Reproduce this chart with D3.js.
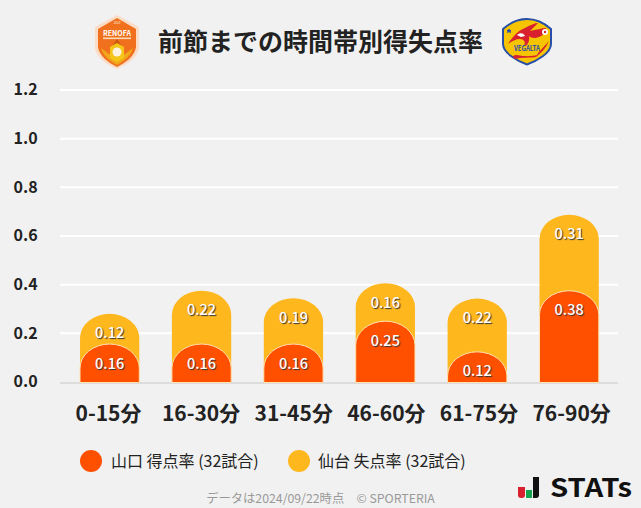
<!DOCTYPE html>
<html><head><meta charset="utf-8">
<script src="https://cdn.jsdelivr.net/npm/d3@7/dist/d3.min.js"></script>
<style>html,body{margin:0;padding:0;background:#f1f1f1;overflow:hidden}svg{display:block}text{font-family:"Noto Sans CJK JP","Noto Sans",sans-serif}</style>
</head><body><svg id="c" width="641" height="508"></svg>
<script>
const categories=["0-15分","16-30分","31-45分","46-60分","61-75分","76-90分"];
const scored=[0.156,0.156,0.156,0.25,0.124,0.375];
const conceded=[0.124,0.219,0.188,0.156,0.219,0.312];
const yTicks=[0,0.2,0.4,0.6,0.8,1.0,1.2];
const title="前節までの時間帯別得失点率";
const legendLabels=["山口 得点率 (32試合)","仙台 失点率 (32試合)"];
const colors=["#ff5000","#ffb71e"];
const svg=d3.select("#c");
const x=d3.scaleBand().domain(categories).range([60.4,618.4]).paddingInner(0.355).paddingOuter(0.2135);
const xLabel=x.copy().range([58.8,621.3]);
const y=d3.scaleLinear().domain([0,1.2]).range([382,90]);
svg.append("g").selectAll("line").data(yTicks.slice(1)).join("line")
 .attr("x1",60).attr("x2",618).attr("y1",d=>y(d)).attr("y2",d=>y(d)).attr("stroke","#fff").attr("stroke-width",2);
svg.append("line").attr("x1",60).attr("x2",618).attr("y1",383).attr("y2",383).attr("stroke","#dcdcdc").attr("stroke-width",2);
const yAxis=svg.append("g").attr("transform","translate(37.7,-1)").call(d3.axisLeft(y).tickValues(yTicks).tickFormat(d3.format(".1f")).tickSize(0).tickPadding(0));
yAxis.select(".domain").remove();
yAxis.selectAll("text").attr("font-size",16).attr("font-weight",700).attr("fill","#222").attr("dy","0.36em");
const xAxis=svg.append("g").attr("transform","translate(0,407)").call(d3.axisBottom(xLabel).tickSize(0).tickPadding(0));
xAxis.select(".domain").remove();
xAxis.selectAll("text").attr("font-size",21).attr("font-weight",700).attr("fill","#222").attr("dy","0.68em");
function capPath(cx,w,top,bottom,ry){
  const l=cx-w/2,r=cx+w/2,h=Math.min(ry,bottom-top);
  return `M${l},${bottom}V${top+h}A${w/2},${h} 0 0 1 ${r},${top+h}V${bottom}Z`;
}
const RY=24;
const rows=categories.map((c,i)=>({c,a:scored[i],b:conceded[i]}));
const g=svg.append("g");
g.selectAll("path.b").data(rows).join("path").attr("class","b")
 .attr("d",d=>capPath(x(d.c)+x.bandwidth()/2,x.bandwidth(),y(d.a+d.b),y(0)+0.5,RY)).attr("fill",colors[1]);
g.selectAll("path.a").data(rows).join("path").attr("class","a")
 .attr("d",d=>capPath(x(d.c)+x.bandwidth()/2,x.bandwidth(),y(d.a),y(0)+0.5,RY)).attr("fill",colors[0]).attr("stroke","#ffe3b0").attr("stroke-width",1);
function lab(cls,val,yPos){
  g.selectAll("text."+cls).data(rows).join("text").attr("class",cls)
   .attr("x",d=>x(d.c)+x.bandwidth()/2).attr("y",yPos).attr("text-anchor","middle").attr("font-size",14.5).attr("font-weight",500)
   .attr("fill","#fff").attr("style","text-shadow:1px 1px 1px #333").text(d=>val(d).toFixed(2));
}
lab("la",d=>d.a,d=>y(d.a)+24.5);
lab("lb",d=>d.b,d=>y(d.a+d.b)+24.5);
svg.append("text").attr("x",320.5).attr("y",51).attr("text-anchor","middle").attr("font-size",25).attr("font-weight",700).attr("fill","#222").text(title);
const lg=svg.append("g");
[[91,111],[299,318]].forEach((p,i)=>{
  lg.append("circle").attr("cx",p[0]).attr("cy",461).attr("r",11).attr("fill",colors[i]);
  lg.append("text").attr("x",p[1]).attr("y",467).attr("font-size",16).attr("fill","#222").text(legendLabels[i]);
});
svg.append("text").attr("x",320.5).attr("y",502.5).attr("text-anchor","middle").attr("font-size",12.3).attr("fill","#999").text("データは2024/09/22時点　© SPORTERIA");
// Renofa badge
const r=svg.append("g").attr("transform","translate(117,42)");
r.append("path").attr("d","M0,-27L22,-15V6C21,16 9,23 0,27C-9,23 -21,16 -22,6V-15Z").attr("fill","#fbdcc6");
r.append("path").attr("d","M0,-24L19,-13V5C18,14 8,21 0,25C-8,21 -18,14 -19,5V-13Z").attr("fill","#f0701d");
r.append("text").attr("y",-6).attr("text-anchor","middle").attr("font-size",7).attr("font-weight",700).attr("fill","#fff").text("RENOFA");
r.append("text").attr("y",-18).attr("text-anchor","middle").attr("font-size",3).attr("fill","#ffe7d2").text("2020");
r.append("rect").attr("x",-14).attr("y",-4.5).attr("width",28).attr("height",1.6).attr("fill","#ffd9b8");
r.append("path").attr("d","M-4,3L0,-3L4,3Z").attr("fill","#c9560f");
r.append("path").attr("d","M-16,6C-14,14 -7,19 0,23C7,19 14,14 16,6L8,12H-8Z").attr("fill","#f2a71b");
r.append("path").attr("d","M-7,16V5L0,1L7,5V16L0,20Z").attr("fill","#f5c518");
r.append("circle").attr("cy",10).attr("r",4.5).attr("fill","#fff3e0");
// Vegalta badge
const v=svg.append("g").attr("transform","translate(527,42)");
v.append("path").attr("d","M-25,-14C-15,-22 -8,-24 0,-24C8,-24 15,-22 25,-14V2C25,12 10,20 0,24C-10,20 -25,12 -25,2Z").attr("fill","#fff");
v.append("path").attr("d","M-24,-13C-15,-21 -8,-23 0,-23C8,-23 15,-21 24,-13V2C24,11 10,19 0,22.5C-10,19 -24,11 -24,2Z").attr("fill","#f6c400").attr("stroke","#2a4fa8").attr("stroke-width",2);
v.append("path").attr("d","M-19,2C-14,-6 -8,-12 -2,-14C3,-17 8,-19 11,-19C7,-15 5,-13 3,-11C9,-12 15,-14 19,-14C19,-9 15,-5 8,-4C5,-4 3,-5 2,-6C3,0 0,4 -3,4C-1,0 -3,-3 -7,-3C-11,-3 -15,-1 -19,2Z").attr("fill","#d8202e");
v.append("path").attr("d","M-10,-7C-7,-10 -3,-9 -2,-6L-6,-5Z").attr("fill","#fff");
v.append("path").attr("d","M-18,-13L-16.5,-9.5L-20,-11.5H-16L-19.5,-9.5Z").attr("fill","#2a4fa8").attr("stroke","#2a4fa8");
v.append("circle").attr("cx",18).attr("cy",-10).attr("r",3).attr("fill","#fff");
v.append("circle").attr("cx",18).attr("cy",-10).attr("r",1.2).attr("fill","#d8202e");
v.append("text").attr("y",9).attr("text-anchor","middle").attr("font-size",7).attr("font-weight",700).attr("font-family","Liberation Serif").attr("fill","#2a4fa8").attr("textLength",26).attr("lengthAdjust","spacingAndGlyphs").text("VEGALTA");
v.append("path").attr("d","M22,-1C16,6 12,9 10,13C6,14 -1,15 -10,13C-13,13 -16,14 -12,17C-6,15 4,16 9,15C14,11 19,6 22,-1Z").attr("fill","#d8202e");
// STATs logo
const s=svg.append("g");
s.append("path").attr("d","M518,487H525V495Q525,498 522,498H521Q518,498 518,495Z").attr("fill","#d8202e");
s.append("rect").attr("x",526).attr("y",490).attr("width",6).attr("height",8).attr("fill","#14a44d");
s.append("path").attr("d","M533,477H539V495Q539,498 536,498H533Z").attr("fill","#111");
s.append("text").attr("x",550).attr("y",497).attr("font-size",26).attr("font-weight",700).attr("font-family","Inter,Roboto,sans-serif").attr("fill","#111").attr("textLength",82).attr("lengthAdjust","spacingAndGlyphs").text("STATs");
</script></body></html>
